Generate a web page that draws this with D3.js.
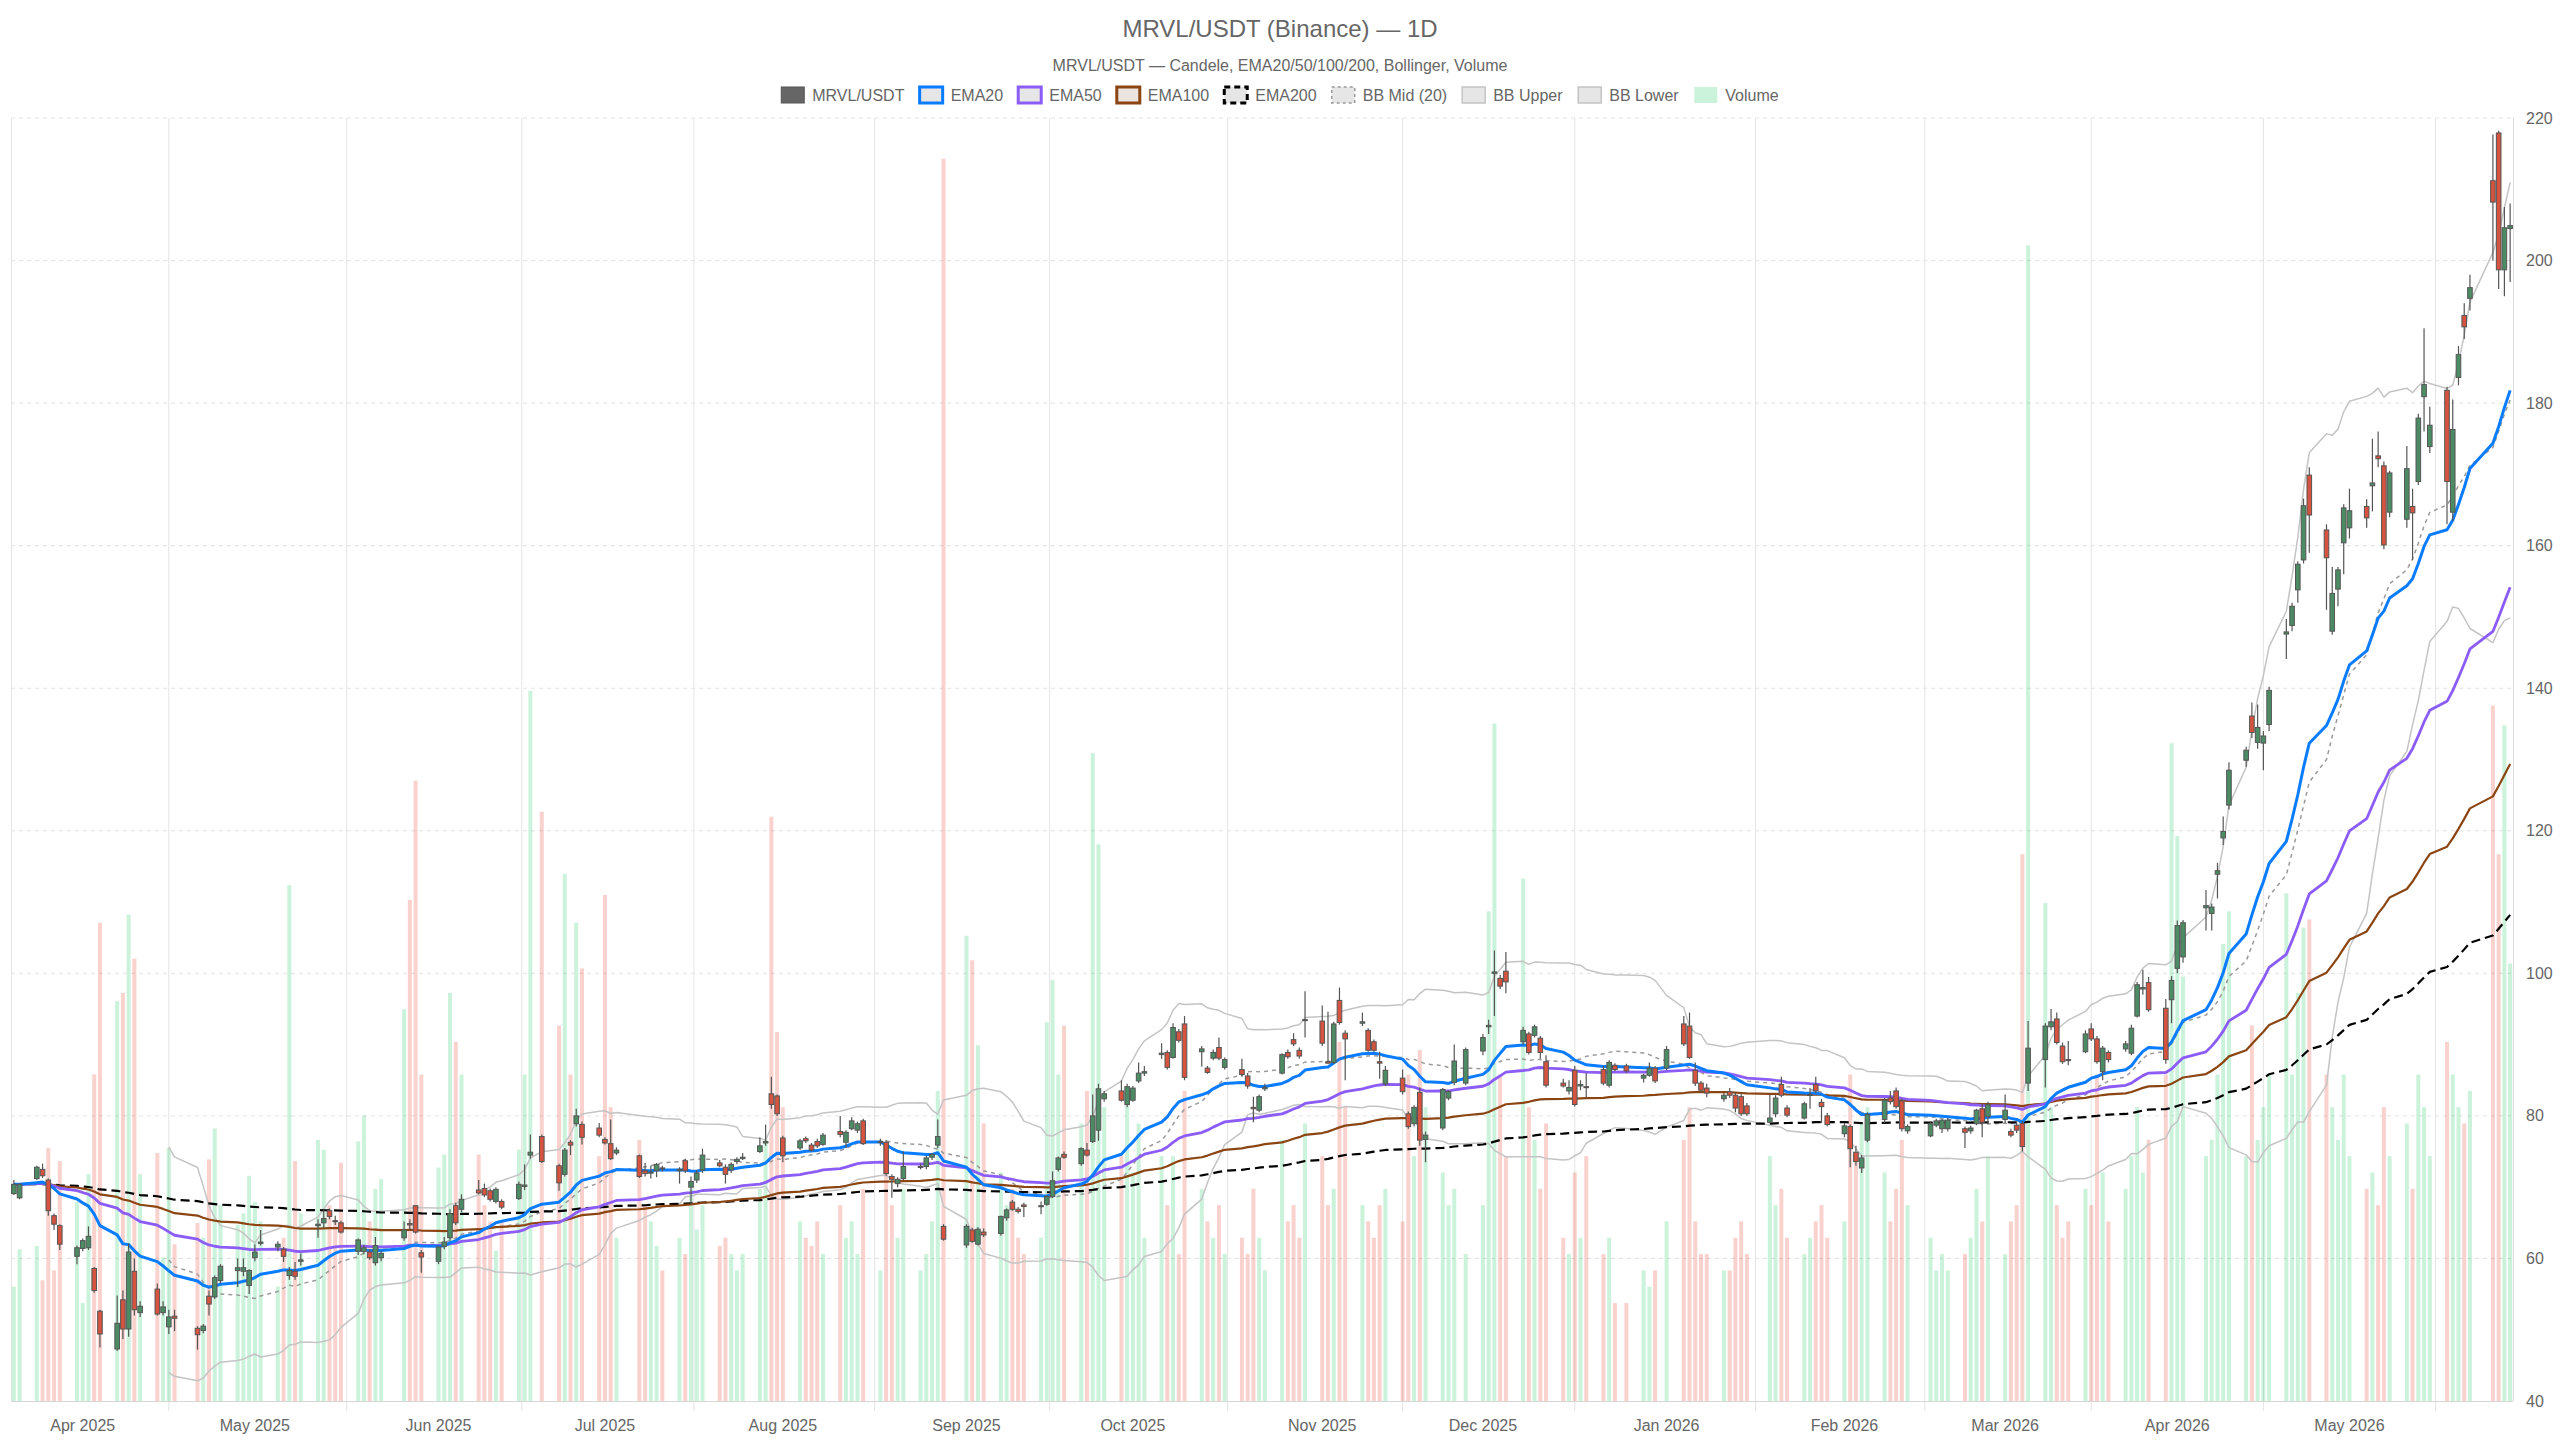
<!DOCTYPE html>
<html>
<head>
<meta charset="utf-8">
<title>MRVL/USDT (Binance) — 1D</title>
<script src="https://cdn.jsdelivr.net/npm/d3@7"></script>
<style>
html, body { margin: 0; padding: 0; background: #fff; }
svg { display: block; font-family: "Helvetica Neue", Helvetica, Arial, "Liberation Sans", sans-serif; }
</style>
</head>
<body>
<svg id="chart" width="2560" height="1440"></svg>
<script>
// trading days, one line per month
var tradeDays = [
  "2025-03: 20 21 24 25 26 27 28 31",
  "2025-04: 1 2 3 4 7 8 9 10 11 14 15 16 17 21 22 23 24 25 28 29 30",
  "2025-05: 1 2 5 6 7 8 9 12 13 14 15 16 19 20 21 22 23 27 28 29 30",
  "2025-06: 2 3 4 5 6 9 10 11 12 13 16 17 18 20 23 24 25 26 27 30",
  "2025-07: 1 2 3 7 8 9 10 11 14 15 16 17 18 21 22 23 24 25 28 29 30 31",
  "2025-08: 1 4 5 6 7 8 11 12 13 14 15 18 19 20 21 22 25 26 27 28 29",
  "2025-09: 2 3 4 5 8 9 10 11 12 15 16 17 18 19 22 23 24 25 26 29 30",
  "2025-10: 1 2 3 6 7 8 9 10 13 14 15 16 17 20 21 22 23 24 27 28 29 30 31",
  "2025-11: 3 4 5 6 7 10 11 12 13 14 17 18 19 20 21 24 25 26 28",
  "2025-12: 1 2 3 4 5 8 9 10 11 12 15 16 17 18 19 22 23 24 26 29 30 31",
  "2026-01: 2 5 6 7 8 9 12 13 14 15 16 20 21 22 23 26 27 28 29 30",
  "2026-02: 2 3 4 5 6 9 10 11 12 13 17 18 19 20 23 24 25 26 27",
  "2026-03: 2 3 4 5 6 9 10 11 12 13 16 17 18 19 20 23 24 25 26 27 30 31",
  "2026-04: 1 2 6 7 8 9 10 13 14 15 16 17 20 21 22 23 24 27 28 29 30",
  "2026-05: 1 4 5 6 7 8 11 12 13 14 15 18 19 20 21 22 26 27 28 29"
];

var opens = [
  69.1, 68.5, 71.2, 72.5, 71.0, 66.0, 64.6, 60.3,
  61.4, 61.5, 58.6, 52.6, 47.3, 54.2, 50.1, 58.2, 52.4, 55.7, 52.4, 50.4, 51.9, 50.2, 49.9, 54.7, 54.6, 56.9, 58.3, 58.2, 56.2,
  60.1, 62.1, 61.6, 61.3, 57.6, 58.2, 59.6, 64.6, 65.0, 66.7, 65.3, 65.0, 61.0, 61.0, 60.9, 59.4, 60.1, 62.9, 64.9, 67.4, 60.8,
  59.6, 61.7, 62.9, 67.4, 66.9, 69.6, 69.8, 69.5, 68.0, 68.0, 68.4, 70.1, 74.5, 77.1, 73.0, 71.8, 76.3, 78.9, 78.8, 78.3,
  76.7, 76.1, 74.8, 74.4, 72.3, 72.0, 72.3, 72.7, 72.3, 73.7, 70.0, 71.0, 72.4, 73.4, 72.8, 72.4, 73.6, 74.0, 75.0, 76.2, 83.1, 82.8,
  76.9, 75.5, 76.8, 75.9, 76.4, 76.0, 77.8, 76.3, 78.2, 78.0, 79.3, 76.3, 76.3, 71.5, 70.5, 71.2, 72.8, 72.9, 74.2, 75.9, 64.5,
  61.9, 64.0, 62.0, 63.7, 63.5, 65.7, 67.9, 66.9, 67.5, 67.3, 67.6, 68.7, 72.5, 74.6, 73.3, 75.2, 76.4, 78.0, 82.4, 83.5, 81.6,
  82.2, 84.9, 86.0, 88.6, 88.9, 88.2, 91.8, 92.9, 89.0, 86.7, 88.1, 89.6, 86.8, 86.5, 85.6, 81.2, 80.8, 83.8, 86.0, 88.9, 90.7, 89.2, 93.4,
  93.3, 87.6, 87.5, 96.2, 91.6, 93.0, 92.0, 90.4, 87.6, 84.5, 85.3, 80.3, 78.9, 83.3, 76.7, 78.3, 82.5, 84.7, 84.6,
  89.1, 92.5, 100.0, 99.3, 100.3, 90.4, 91.5, 91.3, 90.9, 87.6, 84.6, 83.5, 86.4, 84.2, 84.1, 86.5, 84.3, 87.1, 87.0, 85.3, 85.7, 86.7,
  86.7, 92.9, 92.6, 86.4, 84.6, 83.9, 82.4, 83.4, 82.9, 82.7, 81.4, 79.1, 80.3, 84.4, 81.1, 79.7, 82.9, 84.4, 81.9, 80.0,
  77.5, 78.5, 74.9, 72.7, 76.6, 79.5, 82.5, 83.5, 82.1, 77.9, 77.2, 78.7, 78.2, 78.2, 78.2, 77.9, 78.9, 81.0, 79.9,
  79.5, 77.8, 78.7, 78.9, 84.6, 87.9, 92.5, 93.6, 89.8, 87.9, 89.0, 92.2, 90.8, 86.2, 88.9, 89.4, 88.8, 94.0, 97.8, 98.7, 95.1, 96.3,
  100.7, 102.3, 109.2, 108.4, 113.9, 119.0, 123.6, 129.9, 136.1, 132.4, 132.3, 134.9, 147.6, 148.8, 153.8, 158.0, 169.9, 162.2, 148.0, 153.9, 160.4,
  162.5, 165.5, 168.4, 172.6, 171.2, 164.7, 163.7, 165.5, 169.0, 180.9, 173.9, 181.8, 164.7, 183.6, 192.3, 194.7, 211.2, 217.9, 198.7, 204.5
];

var highs = [
  71.0, 70.6, 73.0, 73.3, 71.2, 66.3, 64.8, 61.8,
  62.8, 64.5, 58.8, 52.8, 54.8, 55.5, 62.1, 60.0, 54.0, 56.5, 54.0, 52.8, 52.8, 50.5, 50.8, 55.5, 57.6, 59.2, 60.0, 60.0, 58.5,
  62.0, 64.0, 62.4, 61.6, 58.8, 59.5, 60.7, 65.5, 66.8, 67.0, 66.0, 65.3, 62.8, 61.9, 61.3, 63.0, 61.0, 65.2, 65.5, 67.5, 61.2,
  61.8, 63.0, 66.9, 67.8, 69.0, 71.0, 70.5, 69.8, 70.0, 68.3, 70.8, 73.2, 77.4, 77.4, 73.3, 75.5, 76.6, 81.0, 79.2, 79.0,
  77.0, 79.5, 75.6, 74.6, 73.4, 73.0, 73.4, 73.0, 72.8, 74.0, 71.5, 72.4, 75.4, 73.8, 73.2, 73.5, 74.2, 74.8, 77.0, 78.8, 85.5, 83.0,
  77.2, 76.8, 77.1, 76.2, 76.8, 77.6, 80.0, 78.0, 79.8, 79.2, 79.6, 76.8, 76.6, 71.8, 71.4, 75.0, 73.3, 74.4, 74.8, 79.5, 64.8,
  64.8, 64.3, 64.4, 64.2, 66.0, 67.0, 68.2, 67.2, 67.8, 68.0, 68.9, 72.2, 74.3, 75.0, 75.6, 76.2, 83.0, 84.5, 83.5, 85.0, 84.5,
  84.2, 87.5, 87.0, 90.2, 89.2, 93.0, 92.2, 94.0, 89.8, 87.0, 89.3, 91.0, 88.2, 88.0, 86.0, 82.7, 83.0, 84.5, 88.8, 89.3, 91.6, 89.6, 97.5,
  95.5, 94.6, 93.2, 98.0, 92.0, 94.5, 92.3, 90.7, 89.0, 87.0, 86.5, 80.6, 81.5, 84.0, 77.8, 83.9, 83.6, 90.0, 89.6,
  91.5, 93.5, 103.2, 99.8, 103.0, 92.5, 91.8, 92.8, 91.2, 88.5, 85.2, 85.0, 87.0, 85.0, 86.0, 87.0, 87.8, 87.4, 87.3, 85.9, 87.5, 87.0,
  89.8, 94.0, 94.5, 87.5, 84.9, 84.5, 83.2, 83.9, 83.3, 83.2, 81.8, 83.0, 82.9, 85.5, 81.5, 82.0, 83.9, 85.5, 82.4, 80.4,
  79.0, 78.8, 75.8, 74.5, 80.5, 82.5, 83.5, 84.0, 82.4, 78.8, 79.2, 79.6, 79.6, 79.7, 78.5, 78.6, 81.0, 81.8, 82.0,
  83.0, 78.2, 79.2, 79.3, 93.3, 93.0, 95.0, 94.5, 90.3, 90.5, 92.0, 93.0, 91.2, 89.8, 89.2, 90.5, 92.8, 98.8, 100.5, 99.5, 96.4, 99.6,
  107.4, 107.5, 111.7, 109.8, 115.5, 122.0, 129.6, 131.8, 138.0, 137.7, 134.0, 140.2, 149.7, 152.0, 157.8, 166.6, 171.0, 163.0, 157.0, 157.0, 165.8,
  168.0, 166.5, 175.0, 176.0, 171.8, 170.5, 174.0, 168.0, 178.5, 190.5, 179.5, 182.3, 180.5, 188.0, 194.0, 198.0, 217.7, 218.2, 207.5, 208.0
];

var lows = [
  68.9, 68.3, 71.0, 71.3, 66.0, 64.0, 61.2, 59.2,
  61.0, 61.2, 55.2, 47.5, 47.0, 48.7, 49.0, 52.0, 51.8, 52.0, 52.0, 49.4, 49.8, 47.2, 49.5, 52.0, 54.3, 56.5, 56.0, 57.5, 55.0,
  59.6, 61.8, 61.0, 59.5, 57.0, 57.0, 59.0, 62.9, 64.3, 65.5, 64.7, 63.5, 60.5, 60.6, 59.8, 59.0, 59.6, 62.5, 64.0, 63.5, 58.0,
  59.2, 61.3, 62.5, 64.7, 66.5, 69.0, 68.6, 68.0, 67.7, 66.9, 68.2, 69.6, 74.0, 73.4, 69.5, 71.5, 74.5, 78.5, 76.0, 77.0,
  76.0, 73.8, 74.5, 71.3, 71.5, 71.2, 71.4, 72.2, 70.5, 72.0, 67.6, 70.6, 72.0, 72.8, 70.5, 72.0, 73.2, 73.8, 74.8, 75.8, 81.0, 80.0,
  73.5, 75.2, 76.2, 75.0, 75.5, 75.8, 77.0, 75.5, 78.0, 77.6, 75.9, 75.8, 71.6, 68.5, 70.0, 71.0, 72.5, 72.5, 73.8, 75.5, 62.5,
  61.5, 62.2, 61.8, 63.0, 63.2, 65.3, 66.7, 66.3, 65.8, 66.2, 67.4, 68.5, 72.2, 74.0, 73.0, 74.3, 76.2, 76.5, 82.0, 82.0, 81.2,
  82.0, 84.6, 85.6, 88.0, 86.5, 88.0, 90.3, 85.0, 86.9, 85.9, 87.8, 87.8, 86.5, 85.5, 83.8, 79.1, 80.5, 83.5, 85.8, 88.0, 89.8, 88.0, 91.0,
  89.8, 87.3, 87.3, 92.8, 85.0, 92.6, 89.0, 89.0, 85.2, 84.2, 83.0, 78.2, 78.5, 75.8, 73.5, 78.0, 82.2, 84.3, 84.3,
  88.5, 91.5, 94.0, 97.8, 97.2, 90.0, 88.6, 91.0, 88.0, 84.0, 84.0, 83.0, 81.3, 83.6, 82.5, 84.3, 84.0, 86.3, 86.0, 84.7, 85.5, 84.6,
  86.4, 89.8, 88.0, 84.2, 83.3, 82.6, 82.0, 82.5, 80.5, 80.0, 80.0, 79.0, 79.8, 82.6, 79.8, 79.5, 81.0, 83.2, 79.0, 78.5,
  77.0, 72.8, 73.0, 72.0, 76.3, 79.0, 81.6, 81.0, 77.8, 77.5, 77.0, 78.4, 77.6, 77.8, 75.5, 77.5, 78.7, 77.0, 79.0,
  79.0, 77.0, 77.6, 75.0, 83.5, 84.0, 92.0, 90.0, 87.3, 87.1, 88.8, 90.5, 87.3, 85.0, 87.5, 89.0, 88.5, 93.8, 97.0, 94.6, 87.3, 93.0,
  100.0, 101.5, 106.0, 106.0, 110.5, 118.0, 123.0, 129.0, 133.0, 131.5, 128.5, 134.0, 144.1, 148.0, 152.0, 157.5, 159.0, 151.0, 147.5, 151.5, 156.0,
  161.0, 162.5, 164.8, 171.0, 159.5, 164.0, 162.5, 158.0, 168.5, 176.0, 173.0, 163.0, 163.5, 182.5, 189.0, 193.0, 200.0, 196.0, 195.0, 197.0
];

var closes = [
  70.4, 70.4, 72.8, 71.6, 66.7, 64.8, 62.0, 61.5,
  62.5, 63.1, 55.5, 49.4, 50.9, 50.1, 60.9, 52.8, 53.3, 52.2, 53.2, 51.8, 51.6, 49.3, 50.5, 53.6, 57.3, 58.9, 58.7, 58.7, 58.3,
  60.9, 62.3, 62.0, 60.3, 58.3, 57.5, 59.8, 64.8, 65.6, 65.9, 65.2, 63.7, 62.6, 61.5, 60.1, 61.8, 60.7, 64.0, 64.7, 63.7, 60.2,
  61.6, 62.3, 66.3, 65.0, 68.3, 69.2, 68.9, 68.3, 69.7, 67.2, 70.4, 70.3, 74.9, 73.6, 70.6, 75.2, 75.9, 80.0, 77.0, 77.3,
  76.2, 74.0, 75.2, 71.5, 71.9, 72.1, 73.2, 72.6, 72.5, 72.3, 70.8, 72.0, 74.5, 73.0, 71.8, 73.2, 73.9, 74.2, 75.8, 76.4, 81.6, 80.3,
  74.4, 76.5, 76.5, 75.2, 75.8, 77.3, 77.4, 77.7, 79.3, 78.9, 76.1, 76.4, 71.9, 71.1, 71.1, 72.9, 72.9, 74.1, 74.6, 77.1, 62.7,
  64.5, 62.4, 64.1, 63.3, 65.9, 66.8, 66.9, 66.6, 67.3, 67.4, 68.7, 70.9, 74.1, 74.2, 75.4, 74.5, 80.0, 83.8, 83.1, 82.2, 84.1,
  83.9, 86.0, 86.2, 88.8, 86.8, 92.4, 90.6, 85.4, 89.4, 86.1, 88.9, 88.1, 87.9, 85.8, 84.2, 81.0, 82.7, 84.0, 88.6, 88.3, 90.1, 88.4, 93.5,
  90.2, 87.4, 92.9, 93.1, 90.8, 93.2, 89.2, 89.2, 87.4, 86.4, 83.4, 78.5, 81.2, 76.6, 77.3, 83.7, 83.4, 87.7, 89.3,
  91.0, 92.7, 100.2, 98.2, 98.8, 92.0, 88.9, 92.5, 88.9, 84.3, 84.2, 84.0, 81.6, 84.4, 84.0, 84.6, 87.5, 86.5, 86.3, 85.7, 86.7, 84.9,
  89.3, 90.1, 88.2, 84.6, 83.6, 83.2, 82.9, 82.9, 81.1, 80.3, 80.3, 79.7, 82.5, 82.9, 80.1, 81.7, 83.0, 83.5, 81.3, 78.8,
  78.6, 75.4, 73.6, 74.1, 80.2, 82.2, 82.0, 81.3, 78.2, 78.5, 78.9, 79.3, 79.4, 79.4, 77.7, 78.3, 80.8, 79.1, 81.6,
  80.8, 77.3, 78.0, 75.7, 89.5, 92.6, 93.2, 90.3, 87.6, 87.8, 91.5, 90.8, 87.6, 89.5, 87.9, 90.1, 92.3, 98.4, 98.0, 94.9, 87.9, 99.0,
  106.7, 107.1, 109.5, 109.3, 114.4, 119.9, 128.5, 131.3, 133.8, 134.5, 133.3, 139.7, 147.9, 151.5, 157.4, 165.6, 164.3, 158.3, 153.3, 156.6, 165.3,
  164.9, 163.9, 168.8, 172.2, 160.1, 170.2, 170.8, 164.6, 177.9, 182.6, 176.9, 169.0, 176.3, 186.8, 190.7, 196.2, 208.2, 198.7, 204.6, 204.9
];

// volume, relative units
var volumes = [
  70, 93, 95, 74, 155, 80, 147, 122,
  60, 139, 200, 293, 245, 250, 298, 271, 139, 152, 88, 155, 96, 109, 100, 148, 167, 120, 108, 115, 138,
  122, 110, 70, 100, 316, 147, 115, 160, 154, 120, 110, 146, 159, 175, 110, 130, 136, 240, 307, 380, 200,
  143, 151, 250, 220, 200, 151, 120, 110, 92, 110, 154, 200, 435, 361, 230, 323, 200, 293, 265, 150,
  310, 180, 100, 160, 120, 110, 95, 80, 100, 90, 130, 105, 120, 95, 100, 90, 80, 90, 130, 160, 358, 226,
  180, 110, 100, 95, 110, 90, 120, 100, 110, 90, 130, 80, 150, 120, 100, 130, 80, 90, 110, 190, 761,
  285, 270, 218, 170, 140, 120, 130, 100, 90, 100, 232, 258, 200, 230, 170, 190, 397, 341, 180, 150, 190,
  140, 170, 100, 150, 120, 150, 90, 190, 130, 110, 100, 120, 90, 100, 90, 130, 100, 80, 160, 110, 120, 100, 170,
  150, 120, 130, 220, 180, 120, 110, 100, 120, 130, 110, 200, 150, 215, 180, 140, 120, 130, 90,
  120, 300, 415, 200, 150, 320, 180, 160, 130, 170, 100, 90, 140, 100, 150, 90, 100, 60, 60, 80, 70, 80,
  110, 160, 180, 110, 90, 90, 80, 80, 100, 110, 90, 150, 120, 130, 100, 90, 100, 110, 120, 100,
  110, 200, 150, 170, 180, 140, 110, 130, 160, 120, 100, 80, 90, 80, 90, 100, 130, 110, 150,
  90, 110, 120, 335, 708, 305, 180, 120, 100, 110, 130, 120, 200, 140, 110, 130, 150, 180, 140, 160, 200, 403,
  346, 260, 150, 160, 200, 280, 300, 150, 230, 160, 180, 200, 311, 200, 250, 290, 295, 200, 180, 160, 200,
  150, 130, 140, 120, 180, 150, 170, 130, 200, 180, 150, 220, 200, 180, 170, 190, 426, 335, 414, 268
];

var yTicks = [40, 60, 80, 100, 120, 140, 160, 180, 200, 220];

var svg = d3.select("#chart"),
    width = +svg.attr("width"),
    height = +svg.attr("height");

svg.append("rect").attr("width", width).attr("height", height).attr("fill", "#fff");

// plot box
var pL = 11, pR = 2513, pT = 118, pB = 1401;

// dates from the month lines
var parseDay = d3.timeParse("%Y-%m-%d");
var dates = [];
tradeDays.forEach(function(line) {
    var parts = line.split(":"), ym = parts[0];
    parts[1].trim().split(/\s+/).forEach(function(d) {
        dates.push(parseDay(ym + "-" + (d.length < 2 ? "0" + d : d)));
    });
});

var rows = dates.map(function(d, i) {
    return { date: d, o: opens[i], h: highs[i], l: lows[i], c: closes[i], v: volumes[i] };
});

var x = d3.scaleTime()
    .domain([new Date(2025, 2, 19, 12), new Date(2026, 4, 29, 12)])
    .range([pL, pR]);
var y = d3.scaleLinear().domain([40, 220]).range([pB, pT]);
var yVol = d3.scaleLinear().domain([0, 786]).range([pB, pT]);

// month ticks sit on the first trading day of each month (partial March skipped)
var monthTicks = dates.filter(function(d, i) {
    return i > 0 && d.getMonth() !== dates[i - 1].getMonth();
});

// indicators from closes
function ema(vals, n) {
    var k = 2 / (n + 1), out = [], prev;
    vals.forEach(function(v, i) {
        prev = i === 0 ? v : v * k + prev * (1 - k);
        out.push(prev);
    });
    return out;
}
var bbMid = [], bbUp = [], bbLow = [];
closes.forEach(function(c, i) {
    if (i < 19) { bbMid.push(null); bbUp.push(null); bbLow.push(null); return; }
    var win = closes.slice(i - 19, i + 1);
    var m = d3.mean(win), sd = d3.deviation(win);
    bbMid.push(m); bbUp.push(m + 2 * sd); bbLow.push(m - 2 * sd);
});

// grid
var grid = svg.append("g");
yTicks.forEach(function(t) {
    if (t === 40) return;
    grid.append("line")
        .attr("x1", pL).attr("x2", pR)
        .attr("y1", y(t)).attr("y2", y(t))
        .attr("stroke", "#e2e2e2").attr("stroke-width", 1)
        .attr("stroke-dasharray", "4,4");
});

// vertical grid lines fall halfway between the month ticks
var tickPx = monthTicks.map(function(d) { return x(d); });
var gridPx = [];
for (var gi = 1; gi < tickPx.length; gi++) gridPx.push((tickPx[gi - 1] + tickPx[gi]) / 2);
gridPx.push(tickPx[tickPx.length - 1] + (tickPx[tickPx.length - 1] - tickPx[tickPx.length - 2]) / 2);
gridPx.forEach(function(gx) {
    if (gx <= pL + 2 || gx >= pR - 2) return;
    grid.append("line")
        .attr("x1", gx).attr("x2", gx)
        .attr("y1", pT).attr("y2", pB + 10)
        .attr("stroke", "#e4e4e4").attr("stroke-width", 1);
});
grid.append("line").attr("x1", pL + 0.5).attr("x2", pL + 0.5)
    .attr("y1", pT).attr("y2", pB).attr("stroke", "#e4e4e4");
grid.append("line").attr("x1", pR + 0.5).attr("x2", pR + 0.5)
    .attr("y1", pT).attr("y2", pB).attr("stroke", "#dcdcdc");
grid.append("line").attr("x1", pL).attr("x2", pR)
    .attr("y1", pB + 0.5).attr("y2", pB + 0.5).attr("stroke", "#d6d6d6");

// volume bars
svg.append("g")
    .selectAll("rect")
    .data(rows)
    .enter().append("rect")
    .attr("x", function(d) { return x(d.date) - 2; })
    .attr("width", 4)
    .attr("y", function(d) { return yVol(d.v); })
    .attr("height", function(d) { return pB - yVol(d.v); })
    .attr("fill", function(d) { return d.c >= d.o ? "rgba(46,204,113,0.25)" : "rgba(231,76,60,0.25)"; });

// lines
function drawLine(vals, color, w, dash) {
    var line = d3.line()
        .defined(function(d) { return d != null; })
        .x(function(d, i) { return x(dates[i]); })
        .y(function(d) { return y(d); });
    svg.append("path")
        .datum(vals)
        .attr("d", line)
        .attr("fill", "none")
        .attr("stroke", color)
        .attr("stroke-width", w)
        .attr("stroke-linejoin", "round")
        .attr("stroke-dasharray", dash || null);
}
drawLine(bbLow, "#c4c4c4", 1.5);
drawLine(bbUp, "#c4c4c4", 1.5);
drawLine(bbMid, "#9a9a9a", 1.5, "4,4");
drawLine(ema(closes, 200), "#000", 2.2, "9,5");
drawLine(ema(closes, 100), "#8b4513", 2.2);
drawLine(ema(closes, 50), "#8b5cf6", 2.8);
drawLine(ema(closes, 20), "#0a7cff", 3);

// candles
var candle = svg.append("g").selectAll("g")
    .data(rows)
    .enter().append("g");
candle.append("line")
    .attr("x1", function(d) { return x(d.date); })
    .attr("x2", function(d) { return x(d.date); })
    .attr("y1", function(d) { return y(d.h); })
    .attr("y2", function(d) { return y(d.l); })
    .attr("stroke", "#555").attr("stroke-width", 1.2);
candle.append("rect")
    .attr("x", function(d) { return x(d.date) - 2.3; })
    .attr("width", 4.6)
    .attr("y", function(d) { return y(Math.max(d.o, d.c)); })
    .attr("height", function(d) { return Math.max(1, Math.abs(y(d.o) - y(d.c))); })
    .attr("fill", function(d) { return d.c >= d.o ? "#4c8c64" : "#d5533f"; })
    .attr("stroke", "#555").attr("stroke-width", 1);

// axes labels
var fmt = d3.timeFormat("%b %Y");
svg.append("g").selectAll("text")
    .data(monthTicks)
    .enter().append("text")
    .attr("x", function(d) { return x(d); })
    .attr("y", 1431)
    .attr("text-anchor", "middle")
    .attr("font-size", 16)
    .attr("fill", "#666")
    .text(function(d) { return fmt(d); });

svg.append("g").selectAll("text")
    .data(yTicks)
    .enter().append("text")
    .attr("x", 2526)
    .attr("y", function(d) { return y(d) + 5.5; })
    .attr("font-size", 16)
    .attr("fill", "#666")
    .text(function(d) { return d; });

// titles
svg.append("text")
    .attr("x", 1280).attr("y", 36.5)
    .attr("text-anchor", "middle")
    .attr("font-size", 24)
    .attr("fill", "#666")
    .text("MRVL/USDT (Binance) — 1D");
svg.append("text")
    .attr("x", 1280).attr("y", 71)
    .attr("text-anchor", "middle")
    .attr("font-size", 16)
    .attr("fill", "#666")
    .text("MRVL/USDT — Candele, EMA20/50/100/200, Bollinger, Volume");

// legend
var legendItems = [
    { name: "MRVL/USDT", fill: "#666", stroke: "#555", sw: 1 },
    { name: "EMA20", fill: "#e6e6e6", stroke: "#0a7cff", sw: 3 },
    { name: "EMA50", fill: "#e6e6e6", stroke: "#8b5cf6", sw: 3 },
    { name: "EMA100", fill: "#ece4df", stroke: "#8b4513", sw: 3 },
    { name: "EMA200", fill: "#e6e6e6", stroke: "#000", sw: 3, dash: "6,4" },
    { name: "BB Mid (20)", fill: "#e6e6e6", stroke: "#9a9a9a", sw: 1.5, dash: "3,3" },
    { name: "BB Upper", fill: "#e6e6e6", stroke: "#c4c4c4", sw: 1.5 },
    { name: "BB Lower", fill: "#e6e6e6", stroke: "#c4c4c4", sw: 1.5 },
    { name: "Volume", fill: "rgba(46,204,113,0.25)", stroke: "none", sw: 0 }
];
var boxW = 23, boxH = 16, gapText = 8, gapItem = 15, ly = 95;
var legend = svg.append("g");
var items = legend.selectAll("g").data(legendItems).enter().append("g");
items.append("rect")
    .attr("width", boxW).attr("height", boxH)
    .attr("y", ly - boxH / 2)
    .attr("fill", function(d) { return d.fill; })
    .attr("stroke", function(d) { return d.stroke; })
    .attr("stroke-width", function(d) { return d.sw; })
    .attr("stroke-dasharray", function(d) { return d.dash || null; });
items.append("text")
    .attr("x", boxW + gapText)
    .attr("y", ly + 5.5)
    .attr("font-size", 16)
    .attr("fill", "#666")
    .text(function(d) { return d.name; });

var widths = [];
items.each(function() { widths.push(this.getBBox().width); });
var total = d3.sum(widths) + gapItem * (widths.length - 1);
var cx = 1280 - total / 2;
items.attr("transform", function(d, i) {
    var t = "translate(" + cx + ",0)";
    cx += widths[i] + gapItem;
    return t;
});
</script>
</body>
</html>
